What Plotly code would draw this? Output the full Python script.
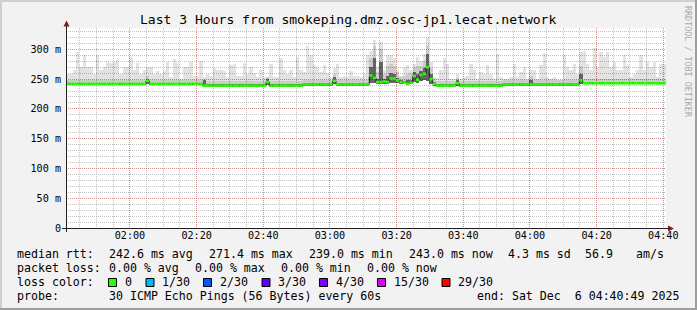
import plotly.graph_objects as go
from datetime import datetime, timedelta

# ---------------- data ----------------
title = "Last 3 Hours from smokeping.dmz.osc-jp1.lecat.network"
start = datetime(2025, 12, 6, 1, 40, 49)
end = datetime(2025, 12, 6, 4, 40, 49)
x_tick_labels = ["02:00", "02:20", "02:40", "03:00", "03:20", "03:40", "04:00", "04:20", "04:40"]
y_tick_values = [0, 50, 100, 150, 200, 250, 300]
y_tick_labels = ["0", "50 m", "100 m", "150 m", "200 m", "250 m", "300 m"]
y_top = 335.8

# one value per minute (ms)
median = [
    242, 242, 242, 242, 242, 242, 242, 242, 242, 242,
    242, 242, 242, 242, 242, 242, 242, 242, 242, 242,
    242, 242, 242, 242, 247, 242, 242, 242, 242, 242,
    242, 242, 242, 242, 242, 242, 242, 242, 242, 242,
    242, 239, 239, 239, 239, 239, 239, 239, 239, 239,
    239, 239, 239, 239, 239, 239, 239, 239, 239, 239,
    245, 239, 239, 239, 239, 239, 239, 239, 239, 239,
    239, 241, 241, 241, 241, 241, 241, 241, 241, 241,
    247, 241, 241, 241, 241, 241, 241, 241, 241, 241,
    241, 256, 252, 245, 245, 246, 245, 251, 251, 248,
    245, 244, 242, 244, 255, 249, 257, 259, 270, 250,
    242, 239, 239, 239, 239, 239, 239, 243, 239, 239,
    239, 239, 239, 239, 239, 239, 239, 239, 239, 239,
    239, 241, 241, 241, 241, 241, 241, 241, 241, 241,
    241, 241, 241, 241, 241, 241, 241, 241, 241, 241,
    241, 241, 241, 241, 248, 243, 243, 243, 243, 243,
    243, 243, 243, 243, 243, 243, 243, 243, 243, 243,
    243, 243, 243, 243, 243, 243, 243, 243, 243, 243,
]
smoke_min = [
    240, 240, 240, 240, 240, 240, 240, 240, 240, 240,
    240, 240, 240, 240, 240, 240, 240, 240, 240, 240,
    240, 240, 240, 240, 242, 240, 240, 240, 240, 240,
    240, 240, 240, 240, 240, 240, 240, 240, 240, 240,
    240, 237, 237, 237, 237, 237, 237, 237, 237, 237,
    237, 237, 237, 237, 237, 237, 237, 237, 237, 237,
    240, 237, 237, 237, 237, 237, 237, 237, 237, 237,
    237, 239, 239, 239, 239, 239, 239, 239, 239, 239,
    241, 239, 239, 239, 239, 239, 239, 239, 239, 239,
    239, 244, 243, 241, 241, 242, 241, 244, 244, 243,
    241, 241, 240, 241, 245, 243, 247, 248, 246, 242,
    239, 237, 237, 237, 237, 237, 237, 238, 237, 237,
    237, 237, 237, 237, 237, 237, 237, 237, 237, 237,
    237, 239, 239, 239, 239, 239, 239, 239, 239, 239,
    239, 239, 239, 239, 239, 239, 239, 239, 239, 239,
    239, 239, 239, 239, 242, 241, 241, 241, 241, 241,
    241, 241, 241, 241, 241, 241, 241, 241, 241, 241,
    241, 241, 241, 241, 241, 241, 241, 241, 241, 241,
]
smoke_max = [
    259, 259, 266, 295, 271, 291, 271, 271, 259, 290,
    266, 271, 279, 277, 279, 284, 259, 270, 270, 287,
    266, 277, 259, 266, 271, 271, 259, 264, 259, 264,
    279, 254, 284, 277, 251, 270, 270, 279, 256, 256,
    280, 254, 259, 255, 269, 266, 266, 264, 254, 273,
    276, 256, 256, 277, 259, 271, 260, 254, 266, 254,
    254, 275, 254, 254, 286, 265, 258, 266, 254, 287,
    265, 262, 305, 290, 273, 271, 262, 273, 260, 254,
    268, 276, 254, 256, 254, 264, 256, 256, 254, 259,
    290, 298, 315, 270, 313, 265, 290, 290, 286, 265,
    254, 270, 273, 265, 276, 287, 280, 292, 320, 278,
    254, 252, 265, 286, 276, 250, 250, 259, 251, 254,
    256, 276, 265, 251, 262, 259, 273, 259, 251, 292,
    254, 251, 250, 254, 276, 254, 262, 271, 250, 266,
    265, 250, 273, 293, 254, 251, 254, 248, 248, 290,
    271, 265, 276, 259, 295, 298, 276, 265, 303, 270,
    296, 287, 296, 270, 279, 265, 265, 290, 273, 254,
    259, 265, 290, 265, 279, 270, 279, 254, 276, 276,
]
smoke_mid = [
    249, 249, 249, 249, 249, 249, 249, 249, 249, 249,
    249, 249, 249, 249, 249, 249, 249, 249, 249, 249,
    249, 249, 249, 249, 256, 249, 249, 249, 249, 249,
    249, 249, 249, 249, 249, 249, 249, 249, 249, 249,
    249, 250, 246, 246, 246, 246, 246, 246, 246, 246,
    246, 246, 246, 246, 246, 246, 246, 246, 246, 246,
    254, 246, 246, 246, 246, 246, 246, 246, 246, 246,
    246, 248, 248, 248, 248, 248, 248, 248, 248, 248,
    258, 248, 248, 248, 248, 248, 248, 248, 248, 248,
    248, 285, 305, 262, 300, 258, 272, 275, 272, 262,
    256, 256, 258, 260, 270, 272, 272, 280, 308, 268,
    250, 246, 246, 246, 246, 246, 246, 252, 246, 246,
    246, 246, 246, 246, 246, 246, 246, 246, 246, 246,
    246, 248, 248, 248, 248, 248, 248, 248, 248, 256,
    248, 248, 248, 248, 248, 248, 248, 248, 248, 248,
    248, 248, 248, 248, 272, 250, 250, 250, 250, 250,
    250, 250, 250, 250, 250, 250, 250, 250, 250, 250,
    250, 250, 250, 250, 250, 250, 250, 250, 250, 250,
]
smoke_dark = [
    244, 244, 244, 244, 244, 244, 244, 244, 244, 244,
    244, 244, 244, 244, 244, 244, 244, 244, 244, 244,
    244, 244, 244, 244, 251, 244, 244, 244, 244, 244,
    244, 244, 244, 244, 244, 244, 244, 244, 244, 244,
    244, 248, 241, 241, 241, 241, 241, 241, 241, 241,
    241, 241, 241, 241, 241, 241, 241, 241, 241, 241,
    250, 241, 241, 241, 241, 241, 241, 241, 241, 241,
    241, 243, 243, 243, 243, 243, 243, 243, 243, 243,
    253, 243, 243, 243, 243, 243, 243, 243, 243, 243,
    243, 270, 285, 250, 278, 250, 255, 260, 258, 252,
    248, 247, 248, 249, 262, 258, 264, 268, 292, 258,
    245, 241, 241, 241, 241, 241, 241, 248, 241, 241,
    241, 241, 241, 241, 241, 241, 241, 241, 241, 241,
    241, 243, 243, 243, 243, 243, 243, 243, 243, 248,
    243, 243, 243, 243, 243, 243, 243, 243, 243, 243,
    243, 243, 243, 243, 258, 245, 245, 245, 245, 245,
    245, 245, 245, 245, 245, 245, 245, 245, 245, 245,
    245, 245, 245, 245, 245, 245, 245, 245, 245, 245,
]

rtt_avg, rtt_max, rtt_min, rtt_now, rtt_sd, am_s = 242.6, 271.4, 239.0, 243.0, 4.3, 56.9
loss_avg, loss_max, loss_min, loss_now = 0.00, 0.00, 0.00, 0.00
loss_labels = ["0", "1/30", "2/30", "3/30", "4/30", "15/30", "29/30"]
loss_colors = ["#26ff00", "#00b8ff", "#0059ff", "#5e00ff", "#7e00ff", "#dd00ff", "#ff0000"]
probe_text = "30 ICMP Echo Pings (56 Bytes) every 60s"
end_text = "end: Sat Dec  6 04:40:49 2025"
watermark = "RRDTOOL / TOBI OETIKER"

# ---------------- geometry / style ----------------
W, H = 697, 310
PL, PR, PT, PB = 66, 666, 28, 228   # plot area in pixels
MONO = "DejaVu Sans Mono"
BG = "#f2f2f2"
GRID = "rgba(143,143,143,0.55)"
MGRID = "rgba(222,79,79,0.45)"
ARROW = "#801f1f"
AXIS = "#1f1f1f"


def xp(px):
    return (px - PL) / (PR - PL)


def yp(py):
    return (PB - py) / (PB - PT)


n = len(median)
centers = [start + timedelta(seconds=60 * i + 30) for i in range(n)]
edges = [start + timedelta(seconds=60 * i) for i in range(n + 1)]

fig = go.Figure()


def band(lo, hi, color):
    fig.add_trace(go.Bar(
        x=centers, base=lo, y=[h - l for l, h in zip(lo, hi)], width=60000,
        marker=dict(color=color, line=dict(width=0)), hoverinfo="skip", showlegend=False))


# translucent smoke so the (underlying) grid stays visible, as in rrdtool
band(smoke_min, smoke_max, "rgba(0,0,0,0.11)")
band(smoke_min, smoke_mid, "rgba(0,0,0,0.10)")
band(smoke_min, smoke_dark, "rgba(0,0,0,0.50)")

# thin dark median step line
fig.add_trace(go.Scatter(
    x=edges, y=median + [median[-1]], mode="lines",
    line=dict(shape="hv", color="#202020", width=1), hoverinfo="skip", showlegend=False))

# loss-coloured median band, one horizontal segment per minute
gx, gy = [], []
for i, m in enumerate(median):
    gx += [edges[i], edges[i + 1], None]
    gy += [m, m, None]
fig.add_trace(go.Scatter(
    x=gx, y=gy, mode="lines", connectgaps=False,
    line=dict(color=loss_colors[0], width=2.6), hoverinfo="skip", showlegend=False))

x_tick_vals = [datetime(2025, 12, 6, int(t[:2]), int(t[3:])) for t in x_tick_labels]

fig.update_layout(
    width=W, height=H,
    margin=dict(l=PL, r=W - PR, t=PT, b=H - PB, pad=0),
    paper_bgcolor=BG, plot_bgcolor="#ffffff",
    barmode="overlay", bargap=0, showlegend=False,
    font=dict(family=MONO, color="#000000"),
    xaxis=dict(
        type="date", range=[start, end], tickmode="array", tickvals=x_tick_vals,
        ticktext=x_tick_labels, showgrid=True, gridcolor=MGRID, griddash="1px,1px", gridwidth=1,
        zeroline=False, showline=False, ticks="", tickfont=dict(size=10.15, family=MONO),
        minor=dict(tick0=datetime(2025, 12, 6, 0, 0), dtick=300000, showgrid=True,
                   gridcolor=GRID, griddash="1px,1px", gridwidth=1),
        fixedrange=True,
    ),
    yaxis=dict(
        range=[0, y_top], tickmode="array", tickvals=y_tick_values, ticktext=y_tick_labels,
        showgrid=True, gridcolor=MGRID, griddash="1px,1px", gridwidth=1,
        zeroline=False, showline=False, ticks="", tickfont=dict(size=10.15, family=MONO),
        ticklabelstandoff=4,
        minor=dict(tick0=0, dtick=10, showgrid=True, gridcolor=GRID, griddash="1px,1px", gridwidth=1),
        fixedrange=True,
    ),
)

shapes = []
# axes
shapes.append(dict(type="line", xref="paper", yref="paper", x0=xp(62), x1=xp(670),
                   y0=yp(228.5), y1=yp(228.5), line=dict(color=AXIS, width=1)))
shapes.append(dict(type="line", xref="paper", yref="paper", x0=xp(66.5), x1=xp(66.5),
                   y0=yp(232), y1=yp(24), line=dict(color=AXIS, width=1)))
# arrows
shapes.append(dict(type="path", xref="paper", yref="paper",
                   path=f"M {xp(668)},{yp(225.5)} L {xp(668)},{yp(231.5)} L {xp(674)},{yp(228.5)} Z",
                   fillcolor=ARROW, line=dict(color=ARROW, width=0)))
shapes.append(dict(type="path", xref="paper", yref="paper",
                   path=f"M {xp(63.5)},{yp(26.5)} L {xp(69.5)},{yp(26.5)} L {xp(66.5)},{yp(20.5)} Z",
                   fillcolor=ARROW, line=dict(color=ARROW, width=0)))
# frame
shapes.append(dict(type="rect", xref="paper", yref="paper", x0=xp(0), x1=xp(697), y0=yp(0), y1=yp(2),
                   fillcolor="#cfcfcf", line=dict(width=0)))
shapes.append(dict(type="rect", xref="paper", yref="paper", x0=xp(0), x1=xp(2), y0=yp(0), y1=yp(310),
                   fillcolor="#cfcfcf", line=dict(width=0)))
shapes.append(dict(type="rect", xref="paper", yref="paper", x0=xp(0), x1=xp(697), y0=yp(308), y1=yp(310),
                   fillcolor="#9e9e9e", line=dict(width=0)))
shapes.append(dict(type="rect", xref="paper", yref="paper", x0=xp(695), x1=xp(697), y0=yp(0), y1=yp(310),
                   fillcolor="#9e9e9e", line=dict(width=0)))

annotations = []


def text(s, x, y, size=11.6, anchor="left", color="#000000", angle=0, yanchor="middle"):
    annotations.append(dict(text=s.replace("  ", "\u00a0\u00a0"), x=xp(x), y=yp(y), xref="paper", yref="paper",
                            xanchor=anchor, yanchor=yanchor, showarrow=False, textangle=angle,
                            font=dict(family=MONO, size=size, color=color)))


text(title, 348, 19, size=13.05, anchor="center")
text(watermark, 688, 4, size=8.4, anchor="center", color="#a8a8a8", angle=90, yanchor="top")

rows = [254, 268, 282, 296]
text("median rtt:", 15, rows[0])
row1 = [(f"{rtt_avg:.1f} ms avg", 106.5), (f"{rtt_max:.1f} ms max", 206.5), (f"{rtt_min:.1f} ms min", 306.5),
        (f"{rtt_now:.1f} ms now", 406.5), (f"{rtt_sd:.1f} ms sd", 506), (f"{am_s:.1f}", 582.5), ("am/s", 634)]
for s, x in row1:
    text(s, x, rows[0])

text("packet loss:", 15, rows[1])
row2 = [(f"{loss_avg:.2f} % avg", 106.5), (f"{loss_max:.2f} % max", 192.5),
        (f"{loss_min:.2f} % min", 278.5), (f"{loss_now:.2f} % now", 364.5)]
for s, x in row2:
    text(s, x, rows[1])

text("loss color:", 15, rows[2])
sq_x = [108, 145.5, 203, 261.5, 319, 377, 441.5]
for lab, col, x in zip(loss_labels, loss_colors, sq_x):
    shapes.append(dict(type="rect", xref="paper", yref="paper", x0=xp(x + 0.5), x1=xp(x + 8.5),
                       y0=yp(278.5), y1=yp(286.5), fillcolor=col, line=dict(color="#000000", width=1)))
    text(lab, x + 14.5, rows[2])

text("probe:", 15, rows[3])
text(probe_text, 106.5, rows[3])
text(end_text, 681, rows[3], anchor="right")

fig.update_layout(shapes=shapes, annotations=annotations)
fig.write_html("out.html", config={"displayModeBar": False, "staticPlot": True})
